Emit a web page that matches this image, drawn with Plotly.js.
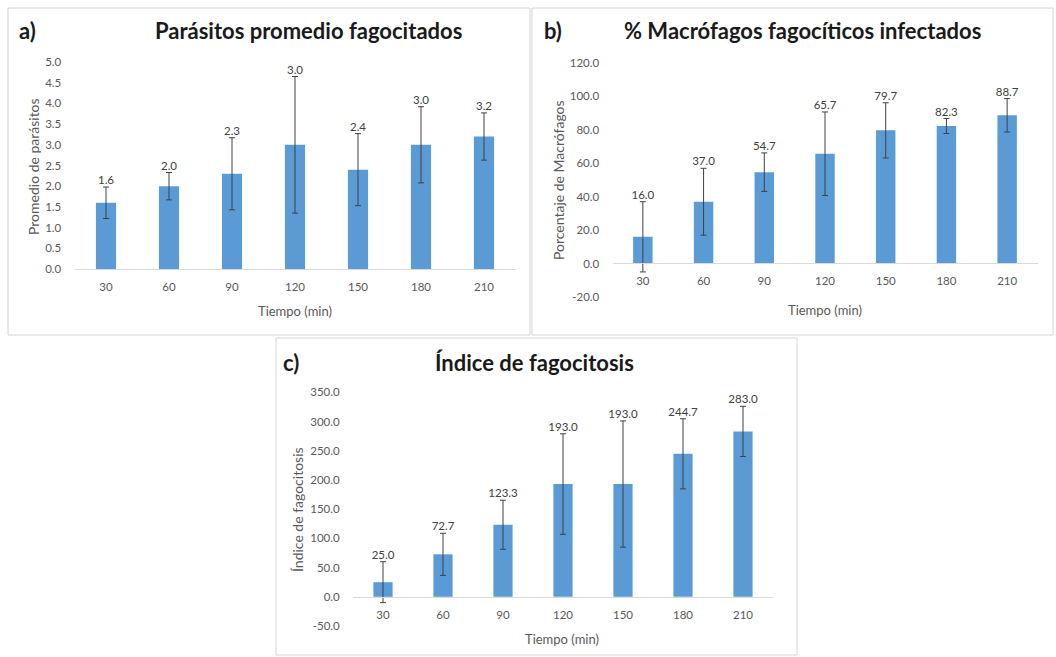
<!DOCTYPE html>
<html>
<head>
<meta charset="utf-8">
<script src="https://cdn.plot.ly/plotly-3.0.1.min.js"></script>
<style>
  html, body { margin: 0; padding: 0; background: #fff; }
  #chart { width: 1056px; height: 657px; }
</style>
</head>
<body>
<div id="chart"></div>
<script>
// Time points (min)
const tiempos = ['30', '60', '90', '120', '150', '180', '210'];

// a) Average phagocytosed parasites
const parasitos = [1.6, 2.0, 2.3, 3.0, 2.4, 3.0, 3.2];
const parasitosErr = [0.38, 0.33, 0.87, 1.65, 0.87, 0.92, 0.57];
const parasitosTicks = ['0.0', '0.5', '1.0', '1.5', '2.0', '2.5', '3.0', '3.5', '4.0', '4.5', '5.0'];

// b) % infected phagocytic macrophages
const macrofagos = [16.0, 37.0, 54.7, 65.7, 79.7, 82.3, 88.7];
const macrofagosErr = [21, 20, 11.5, 25, 16.5, 4.5, 10];
const macrofagosTicks = ['-20.0', '0.0', '20.0', '40.0', '60.0', '80.0', '100.0', '120.0'];

// c) Phagocytosis index
const indice = [25.0, 72.7, 123.3, 193.0, 193.0, 244.7, 283.0];
const indiceErr = [35, 36, 42, 86, 108, 60, 43];
const indiceTicks = ['-50.0', '0.0', '50.0', '100.0', '150.0', '200.0', '250.0', '300.0', '350.0'];

const W = 1056, H = 657;
const px = x => x / W;
const py = y => 1 - y / H;

const FONT = 'Lato, "Open Sans", sans-serif';
const BAR = '#5b9bd5';
const ERR = '#404040';
const TICK = '#595959';
const SMALL = 11.5;

function barTrace(vals, errs, xa, ya) {
  return {
    type: 'bar', x: tiempos, y: vals, xaxis: xa, yaxis: ya,
    marker: { color: BAR, line: { width: 0 } },
    error_y: { type: 'data', array: errs, visible: true, color: ERR, thickness: 1, width: 3 },
    hoverinfo: 'skip', showlegend: false
  };
}
function labelTrace(vals, errs, xa, ya) {
  return {
    type: 'scatter', mode: 'text', x: tiempos,
    y: vals.map((v, i) => v + errs[i]),
    text: vals.map(v => v.toFixed(1)),
    textposition: 'top center',
    textfont: { family: FONT, size: SMALL, color: ERR },
    xaxis: xa, yaxis: ya, hoverinfo: 'skip', showlegend: false, cliponaxis: false
  };
}

const data = [
  barTrace(parasitos, parasitosErr, 'x', 'y'),
  labelTrace(parasitos, parasitosErr, 'x', 'y'),
  barTrace(macrofagos, macrofagosErr, 'x2', 'y2'),
  labelTrace(macrofagos, macrofagosErr, 'x2', 'y2'),
  barTrace(indice, indiceErr, 'x3', 'y3'),
  labelTrace(indice, indiceErr, 'x3', 'y3')
];

function xAxis(domain, anchor, position) {
  const ax = {
    domain: domain, type: 'category', showgrid: false, zeroline: false,
    showline: true, linecolor: '#d9d9d9', linewidth: 1,
    ticks: 'outside', ticklen: 7, tickcolor: 'rgba(0,0,0,0)',
    tickfont: { family: FONT, size: SMALL, color: TICK }, fixedrange: true
  };
  if (anchor === 'free') { ax.anchor = 'free'; ax.position = position; } else { ax.anchor = anchor; }
  return ax;
}
function yAxis(domain, anchor, range, labels) {
  return {
    domain: domain, anchor: anchor, range: range,
    tickvals: labels.map(Number), ticktext: labels,
    showgrid: false, zeroline: false, showline: false,
    ticks: 'outside', ticklen: 10, tickcolor: 'rgba(0,0,0,0)',
    tickfont: { family: FONT, size: SMALL, color: TICK }, fixedrange: true
  };
}

function box(x0, y0, x1, y1) {
  return { type: 'rect', xref: 'paper', yref: 'paper', x0: px(x0), x1: px(x1), y0: py(y1), y1: py(y0),
           line: { color: '#d4d4d4', width: 1 }, fillcolor: 'rgba(0,0,0,0)', layer: 'below' };
}
function note(text, x, y, size, opts) {
  return Object.assign({
    text: text, xref: 'paper', yref: 'paper', x: px(x), y: py(y),
    xanchor: 'center', yanchor: 'middle', showarrow: false,
    font: { family: FONT, size: size, color: TICK }
  }, opts || {});
}
const TITLE_FONT = { family: FONT, size: 22, color: '#1a1a1a' };
const heading = (text, x, y) => note('<b>' + text + '</b>', x, y, 22, { font: TITLE_FONT });

const layout = {
  width: W, height: H, margin: { l: 0, r: 0, t: 0, b: 0 },
  paper_bgcolor: '#fff', plot_bgcolor: 'rgba(0,0,0,0)',
  bargap: 0.68, showlegend: false,
  xaxis: xAxis([px(74.5), px(515.5)], 'y'),
  yaxis: yAxis([py(269), py(62)], 'x', [0, 5], parasitosTicks),
  xaxis2: xAxis([px(612.5), px(1037.5)], 'free', py(263.3)),
  yaxis2: yAxis([py(297), py(63)], 'x2', [-20, 120], macrofagosTicks),
  xaxis3: xAxis([px(353), px(773)], 'free', py(596.7)),
  yaxis3: yAxis([py(626), py(392.3)], 'x3', [-50, 350], indiceTicks),
  shapes: [box(8, 8, 530, 335), box(532, 8, 1053, 335), box(276, 338, 797, 655)],
  annotations: [
    heading('a)', 27, 31),
    heading('Parásitos promedio fagocitados', 308, 31),
    note('Tiempo (min)', 295, 311, 13),
    note('Promedio de parásitos', 34, 167, 14, { textangle: -90 }),

    heading('b)', 553, 31),
    heading('% Macrófagos fagocíticos infectados', 802, 31),
    note('Tiempo (min)', 825, 310, 13),
    note('Porcentaje de Macrófagos', 558, 180, 14, { textangle: -90 }),

    heading('c)', 291, 362),
    heading('Índice de fagocitosis', 534, 362),
    note('Tiempo (min)', 562, 639, 13),
    note('Índice de fagocitosis', 297, 510, 14, { textangle: -90 })
  ]
};

Plotly.newPlot('chart', data, layout, { staticPlot: true, displayModeBar: false });
</script>
</body>
</html>
